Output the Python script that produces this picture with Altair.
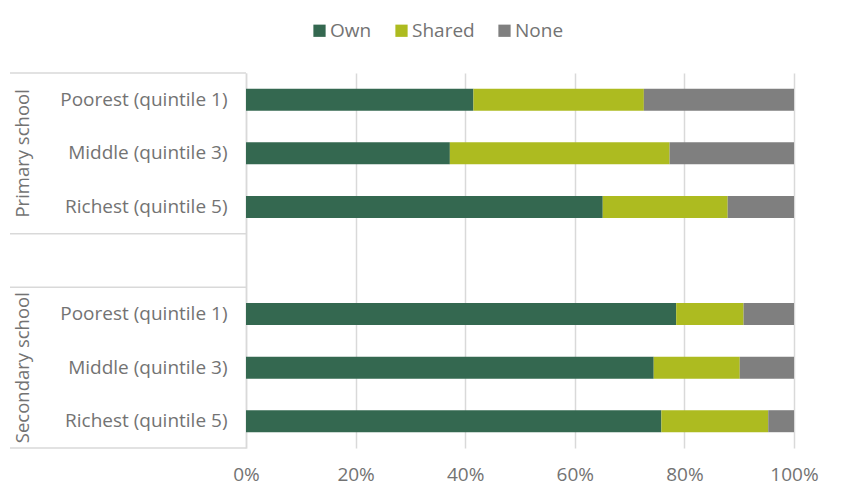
import pandas as pd
import altair as alt

# data (percent of pupils)
groups = ["Primary school", "Secondary school"]
quintiles = ["Poorest (quintile 1)", "Middle (quintile 3)", "Richest (quintile 5)"]
access = ["Own", "Shared", "None"]
colors = ["#346850", "#adbb20", "#7f7f7f"]

own = [41.5, 37.2, 65.1, 78.5, 74.4, 75.8]
shared = [31.1, 40.1, 22.8, 12.3, 15.7, 19.5]
none = [27.4, 22.7, 12.1, 9.2, 9.9, 4.7]

# row keys: group|quintile, with an empty row between the two groups
rows = [g + "|" + q for g in groups for q in quintiles]
keys = rows[:3] + ["gap|"] + rows[3:]

records = []
for i, key in enumerate(rows):
    for j, (name, vals) in enumerate(zip(access, [own, shared, none])):
        records.append({"key": key, "access": name, "order": j, "value": vals[i]})
df = pd.DataFrame(records)

font = "Open Sans"
grey_text = "#737373"
line = "#d9d9d9"

yscale = alt.Scale(domain=keys, paddingInner=0, paddingOuter=0)

bars = alt.Chart(df).mark_bar(size=22).encode(
    alt.X("value:Q", stack=True,
          scale=alt.Scale(domain=[0, 100], nice=False),
          axis=alt.Axis(values=[0, 20, 40, 60, 80, 100], labelExpr="datum.value + '%'",
                        title=None, domain=False, ticks=False, grid=True,
                        gridColor=line, gridWidth=1.5, labelFlush=False,
                        labelPadding=17)),
    alt.Y("key:N", scale=yscale,
          axis=alt.Axis(title=None, ticks=False, grid=False, domainColor=line,
                        domainWidth=1.5,
                        labelExpr="split(datum.value, '|')[1]", labelPadding=19,
                        labelLimit=300)),
    alt.Color("access:N", scale=alt.Scale(domain=access, range=colors),
              legend=alt.Legend(title=None, orient="none", direction="horizontal",
                                legendX=64, legendY=-52, symbolType="square",
                                symbolSize=150, symbolStrokeWidth=0, labelOffset=1,
                                columnPadding=20, padding=0)),
    alt.Order("order:Q"),
)

# vertical group labels on the left
grp = pd.DataFrame({"key": [rows[1], rows[4]], "label": groups})
group_text = alt.Chart(grp).mark_text(angle=270, fontSize=18.5, font=font,
                                      color=grey_text).encode(
    y=alt.Y("key:N", scale=yscale),
    x=alt.value(-223),
    text="label:N",
)

# box lines around the category groups
edges_top = pd.DataFrame({"key": [keys[0], keys[3], keys[4]]})
edges_bottom = pd.DataFrame({"key": [keys[-1]]})
rule_top = alt.Chart(edges_top).mark_rule(color=line, strokeWidth=1.5).encode(
    y=alt.Y("key:N", scale=yscale, bandPosition=0),
    x=alt.value(-236), x2=alt.value(0),
)
rule_bottom = alt.Chart(edges_bottom).mark_rule(color=line, strokeWidth=1.5).encode(
    y=alt.Y("key:N", scale=yscale, bandPosition=1),
    x=alt.value(-236), x2=alt.value(0),
)

chart = alt.layer(bars, group_text, rule_top, rule_bottom).properties(
    width=548, height=375,
    autosize=alt.AutoSizeParams(type="none"),
    padding={"left": 238, "top": 65, "right": 46, "bottom": 45},
).configure_view(stroke=None).configure_axis(
    labelFont=font, labelFontSize=19, labelColor=grey_text,
).configure_legend(
    labelFont=font, labelFontSize=19, labelColor=grey_text,
)

chart.save("out.html", embed_options={"renderer": "svg", "actions": False})
